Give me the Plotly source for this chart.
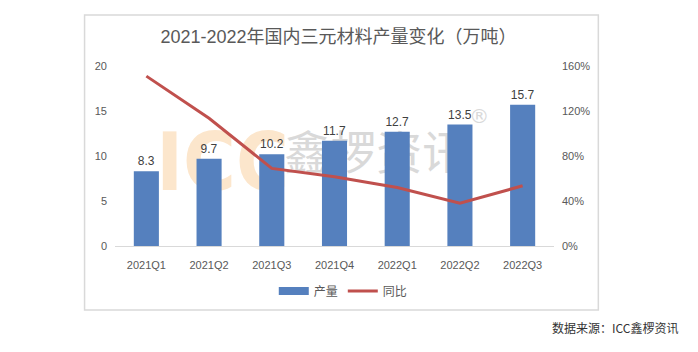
import plotly.graph_objects as go

categories = ["2021Q1", "2021Q2", "2021Q3", "2021Q4", "2022Q1", "2022Q2", "2022Q3"]
output = [8.3, 9.7, 10.2, 11.7, 12.7, 13.5, 15.7]
yoy = [1.51, 1.135, 0.69, 0.615, 0.52, 0.38, 0.535]
left_ticks = [0, 5, 10, 15, 20]
right_ticks = [0, 0.4, 0.8, 1.2, 1.6]

FONT = "Liberation Sans, Noto Sans CJK SC, sans-serif"
GREY = "#595959"
BLUE = "#5580BE"
RED = "#C0504D"

fig = go.Figure()
fig.add_trace(go.Bar(
    x=categories, y=output, name="产量", showlegend=False,
    marker=dict(color=BLUE, line=dict(width=0)),
    text=[f"{v:.1f}" for v in output], textposition="outside",
    textfont=dict(size=12, color="#404040", family=FONT),
    cliponaxis=False,
))
# legend-only entry giving the wide bar swatch
fig.add_trace(go.Scatter(
    x=[None], y=[None], name="产量", mode="lines",
    line=dict(color=BLUE, width=8),
))
fig.add_trace(go.Scatter(
    x=categories, y=yoy, name="同比", yaxis="y2", mode="lines",
    line=dict(color=RED, width=3),
))

fig.update_layout(
    width=698, height=352,
    margin=dict(l=114.5, r=143.5, t=66, b=106),
    paper_bgcolor="white", plot_bgcolor="rgba(0,0,0,0)",
    font=dict(family=FONT, color=GREY, size=11),
    title=dict(text="2021-2022年国内三元材料产量变化（万吨）", x=0.485, xanchor="center",
               y=0.895, yanchor="middle", font=dict(size=18, color=GREY, family=FONT)),
    bargap=0.6,
    showlegend=True,
    legend=dict(orientation="h", x=0.52, xanchor="center", y=-0.25, yanchor="middle",
                font=dict(size=12, color=GREY), itemwidth=30, traceorder="normal",
                bgcolor="rgba(0,0,0,0)", tracegroupgap=0),
    xaxis=dict(type="category", showline=True, linecolor="#d9d9d9", linewidth=1,
               ticks="", tickfont=dict(size=11, color=GREY), showgrid=False, ticklabelstandoff=9),
    yaxis=dict(range=[0, 20], tickvals=left_ticks, showgrid=False, zeroline=False,
               showline=False, tickfont=dict(size=11, color=GREY), ticklabelstandoff=7),
    yaxis2=dict(range=[0, 1.6], tickvals=right_ticks, tickformat=".0%", overlaying="y",
                side="right", showgrid=False, zeroline=False, showline=False,
                tickfont=dict(size=11, color=GREY), ticklabelstandoff=7),
    shapes=[
        dict(type="rect", xref="paper", yref="paper", x0=-0.0693, x1=1.101, y0=-0.356, y1=1.283,
             line=dict(color="#d9d9d9", width=1.5), fillcolor="rgba(0,0,0,0)", layer="below"),
        dict(type="rect", xref="paper", yref="paper", x0=0.15, x1=0.34, y0=0.2, y1=0.8,
             line=dict(width=0), fillcolor="rgba(0,0,0,0)", layer="below",
             label=dict(text="<b>ICC</b>", textposition="middle center",
                        font=dict(size=80, color="#FCE6CC", family="DejaVu Sans Condensed, Liberation Sans Narrow, sans-serif"))),
        dict(type="rect", xref="paper", yref="paper", x0=0.37, x1=0.82, y0=0.2, y1=0.8,
             line=dict(width=0), fillcolor="rgba(0,0,0,0)", layer="below",
             label=dict(text="鑫椤资讯", textposition="middle center",
                        font=dict(size=46, color="#D9D9D9", family="Noto Sans CJK SC"))),
        dict(type="rect", xref="paper", yref="paper", x0=0.8, x1=0.86, y0=0.66, y1=0.8,
             line=dict(width=0), fillcolor="rgba(0,0,0,0)", layer="below",
             label=dict(text="®", textposition="middle center",
                        font=dict(size=20, color="#D9D9D9", family="DejaVu Sans"))),
    ],
    annotations=[
        dict(text="数据来源：ICC鑫椤资讯", xref="paper", yref="paper", x=1.288, y=-0.45,
             xanchor="right", yanchor="middle", showarrow=False,
             font=dict(size=12, color="#333333", family="Noto Sans CJK SC")),
    ],
)

fig.write_html("out.html")
